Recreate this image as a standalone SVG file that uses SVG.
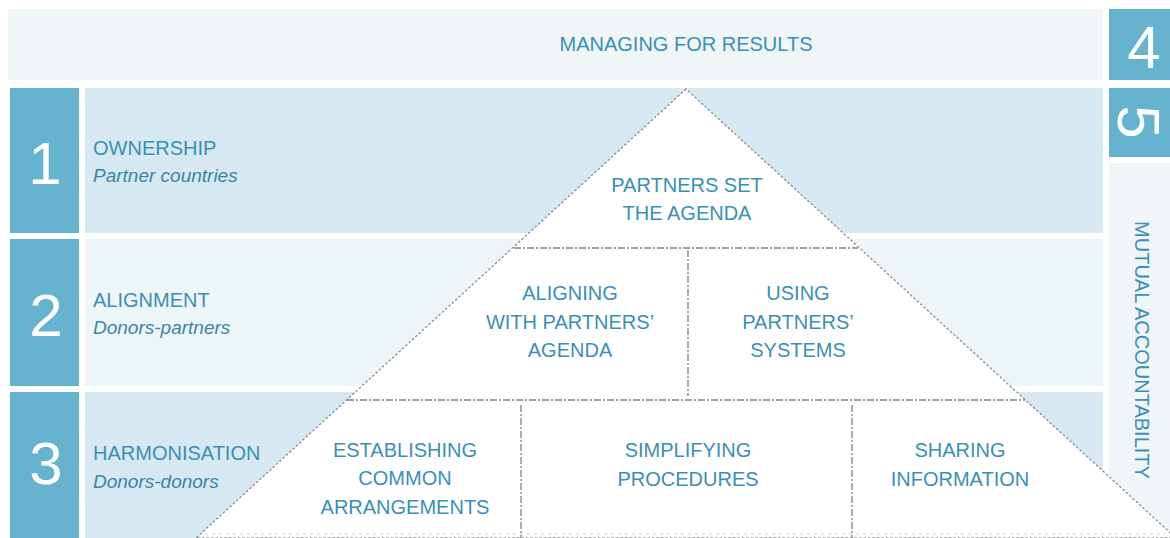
<svg xmlns="http://www.w3.org/2000/svg" width="1170" height="538" viewBox="0 0 1170 538">
<style>
.num{fill:#66b3cf}
.band1{fill:#d6e9f2}
.band2{fill:#eef5f9}
.pale{fill:#f0f5f8}
.big{font-family:"Liberation Sans",Arial,sans-serif;font-size:60px;fill:#ffffff;text-anchor:middle}
.t{font-family:"Liberation Sans",Arial,sans-serif;font-size:20px;fill:#3990b5}
.it{font-family:"Liberation Sans",Arial,sans-serif;font-size:19px;font-style:italic;fill:#3a86a8}
.c{text-anchor:middle}
.edge{fill:#ffffff;stroke:#8c8c8c;stroke-width:1.3;stroke-dasharray:2.5,2}
.div{stroke:#808080;stroke-width:1.3;stroke-dasharray:7,2,2,2;fill:none}
.base{stroke:#cfcfcf;stroke-width:1.2;stroke-dasharray:3,4;fill:none}
</style>
<rect width="1170" height="538" fill="#ffffff"/>
<g id="managing">
<rect x="8" y="9" width="1095" height="71" class="pale"/>
<text x="686" y="51" class="t c">MANAGING FOR RESULTS</text>
</g>
<g id="box4">
<rect x="1109" y="9" width="61" height="71" class="num"/>
<text x="1144" y="68" class="big">4</text>
</g>
<g id="box5">
<rect x="1109" y="88" width="61" height="69" class="num"/>
<text transform="translate(1118,122) rotate(90)" x="0" y="0" class="big">5</text>
</g>
<g id="mutual">
<rect x="1109" y="163" width="61" height="375" class="pale"/>
</g>
<g id="row1">
<rect x="10" y="88" width="69" height="145" class="num"/>
<rect x="85" y="88" width="1018" height="145" class="band1"/>
<text x="45" y="184" class="big">1</text>
<text x="93" y="155" class="t">OWNERSHIP</text>
<text x="93" y="182" class="it">Partner countries</text>
</g>
<g id="row2">
<rect x="10" y="239" width="69" height="147" class="num"/>
<rect x="85" y="239" width="1018" height="147" class="band2"/>
<text x="46" y="336" class="big">2</text>
<text x="93" y="307" class="t">ALIGNMENT</text>
<text x="93" y="334" class="it">Donors-partners</text>
</g>
<g id="row3">
<rect x="10" y="392" width="69" height="146" class="num"/>
<rect x="85" y="392" width="1018" height="146" class="band1"/>
<text x="46" y="484" class="big">3</text>
<text x="93" y="460" class="t">HARMONISATION</text>
<text x="93" y="488" class="it">Donors-donors</text>
</g>
<g id="pyramid">
<polygon points="686,89 196,538 1176,538" class="edge"/>
</g>
<g id="connectors">
<line x1="514" y1="248" x2="858" y2="248" class="div"/>
<line x1="347" y1="400" x2="1025" y2="400" class="div"/>
<line x1="688" y1="250" x2="688" y2="396" class="div"/>
<line x1="521" y1="405" x2="521" y2="538" class="div"/>
<line x1="852" y1="405" x2="852" y2="538" class="div"/>
<line x1="205" y1="534" x2="1165" y2="534" class="base"/>
</g>
<g id="partners-set">
<text x="687" y="192" class="t c">PARTNERS SET</text>
<text x="687" y="220" class="t c">THE AGENDA</text>
</g>
<g id="aligning">
<text x="570" y="300" class="t c">ALIGNING</text>
<text x="570" y="329" class="t c">WITH PARTNERS’</text>
<text x="570" y="357" class="t c">AGENDA</text>
</g>
<g id="using">
<text x="798" y="300" class="t c">USING</text>
<text x="798" y="329" class="t c">PARTNERS’</text>
<text x="798" y="357" class="t c">SYSTEMS</text>
</g>
<g id="establishing">
<text x="405" y="457" class="t c">ESTABLISHING</text>
<text x="405" y="485" class="t c">COMMON</text>
<text x="405" y="514" class="t c">ARRANGEMENTS</text>
</g>
<g id="simplifying">
<text x="688" y="457" class="t c">SIMPLIFYING</text>
<text x="688" y="486" class="t c">PROCEDURES</text>
</g>
<g id="sharing">
<text x="960" y="457" class="t c">SHARING</text>
<text x="960" y="486" class="t c">INFORMATION</text>
</g>
<g id="mutual-label">
<text transform="translate(1135,350) rotate(90)" x="0" y="0" class="t c">MUTUAL ACCOUNTABILITY</text>
</g>
</svg>
